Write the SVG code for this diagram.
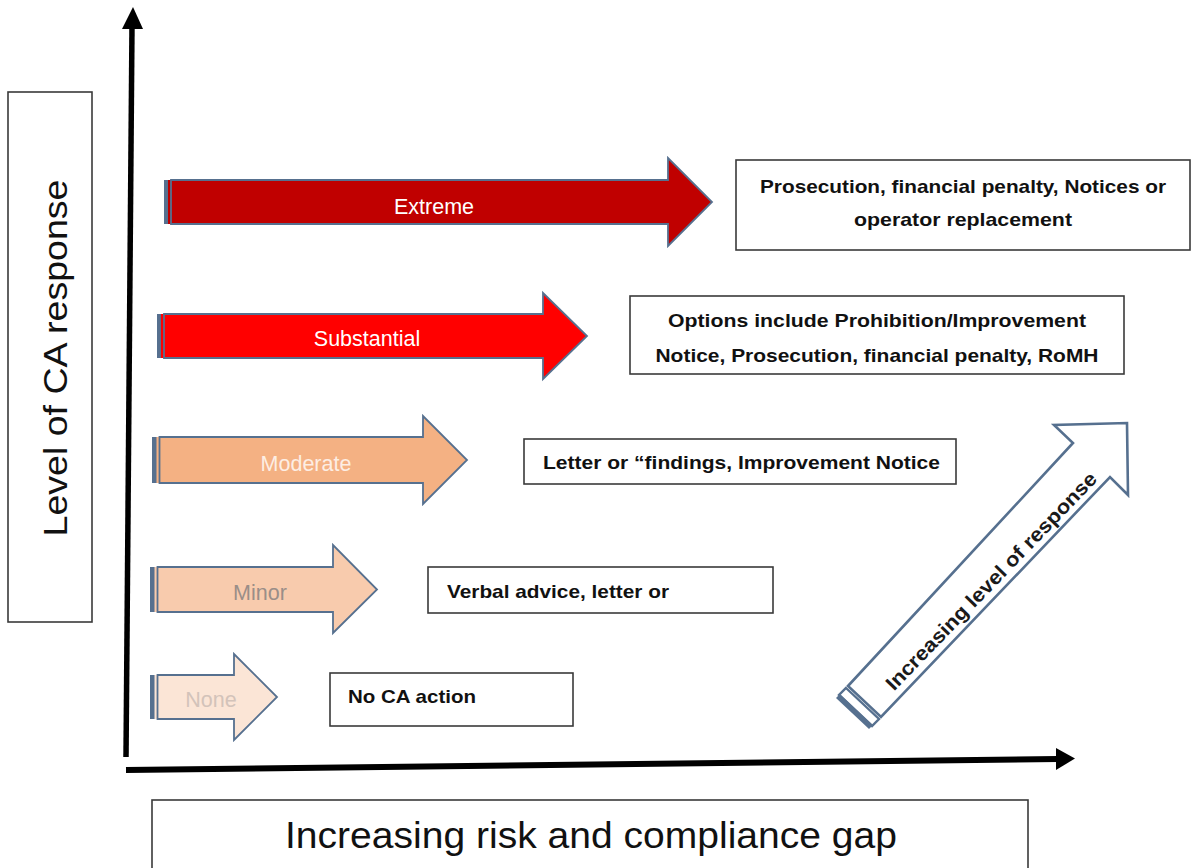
<svg xmlns="http://www.w3.org/2000/svg" width="1191" height="868" viewBox="0 0 1191 868">
<style>
.body{stroke:#56708f;stroke-width:1.8;stroke-linejoin:miter}
.bar{fill:#56708f}
.lbl{font-family:"Liberation Sans",Arial,sans-serif;font-size:21.5px;text-anchor:middle}
.box{fill:#fff;stroke:#3a3a3a;stroke-width:1.6}
.bt{font-family:"Liberation Sans",Arial,sans-serif;font-size:18.5px;font-weight:bold;fill:#111}
.axis{font-family:"Liberation Sans",Arial,sans-serif;fill:#111}
</style>
<rect width="1191" height="868" fill="#fff"/>

<g id="connectors">
  <line x1="126" y1="757" x2="132" y2="26" stroke="#000" stroke-width="5.5"/>
  <polygon points="122,29 143,29 133,7" fill="#000"/>
  <line x1="126" y1="770" x2="1058" y2="759" stroke="#000" stroke-width="6"/>
  <polygon points="1056,748 1075,758.5 1056,770" fill="#000"/>
</g>

<g id="ylabel">
  <rect x="8" y="92" width="84" height="530" class="box" stroke-width="1.3"/>
  <text class="axis" transform="translate(67,358) rotate(-90)" text-anchor="middle" font-size="34" textLength="357" lengthAdjust="spacingAndGlyphs">Level of CA response</text>
</g>

<g id="xlabel">
  <rect x="152" y="800" width="876" height="72" class="box" stroke-width="1.3"/>
  <text class="axis" x="591" y="848" text-anchor="middle" font-size="37" textLength="612" lengthAdjust="spacingAndGlyphs">Increasing risk and compliance gap</text>
</g>

<g id="extreme">
  <rect x="164" y="180" width="9" height="44" fill="#c00000"/>
  <rect x="164" y="180" width="4" height="44" class="bar"/>
  <polygon class="body" fill="#c00000" points="171,180 668,180 668,158 712,202 668,246 668,224 171,224"/>
  <text class="lbl" x="434" y="214" fill="#fff">Extreme</text>
</g>

<g id="substantial">
  <rect x="157" y="314" width="9" height="44" fill="#ff0000"/>
  <rect x="157" y="314" width="4" height="44" class="bar"/>
  <polygon class="body" fill="#ff0000" points="164,314 543,314 543,293 587,336 543,379 543,358 164,358"/>
  <text class="lbl" x="367" y="346" fill="#fff">Substantial</text>
</g>

<g id="moderate">
  <rect x="152" y="437" width="9" height="46" fill="#f4b183"/>
  <rect x="152" y="437" width="4.5" height="46" class="bar"/>
  <polygon class="body" fill="#f4b183" points="159.5,437 423,437 423,416 467,460 423,504 423,483 159.5,483"/>
  <text class="lbl" x="306" y="471" fill="#fdeee4">Moderate</text>
</g>

<g id="minor">
  <rect x="150" y="567" width="9" height="45" fill="#f8cbad"/>
  <rect x="150" y="567" width="4.5" height="45" class="bar"/>
  <polygon class="body" fill="#f8cbad" points="157.5,567 333,567 333,545 377,589.5 333,633 333,612 157.5,612"/>
  <text class="lbl" x="260" y="600" fill="#9a8e88">Minor</text>
</g>

<g id="none">
  <rect x="150" y="675" width="9" height="44" fill="#fbe5d6"/>
  <rect x="150" y="675" width="4.5" height="44" class="bar"/>
  <polygon class="body" fill="#fbe5d6" points="157.5,675 234,675 234,654 277,697 234,740 234,719 157.5,719"/>
  <text class="lbl" x="211" y="707" fill="#d3c3ba">None</text>
</g>

<g id="box-extreme">
  <rect x="736" y="160" width="454" height="90" class="box"/>
  <text class="bt" x="963" y="193" text-anchor="middle" textLength="406" lengthAdjust="spacingAndGlyphs">Prosecution, financial penalty, Notices or</text>
  <text class="bt" x="963" y="226" text-anchor="middle" textLength="218" lengthAdjust="spacingAndGlyphs">operator replacement</text>
</g>

<g id="box-substantial">
  <rect x="630" y="296" width="494" height="78" class="box"/>
  <text class="bt" x="877" y="327" text-anchor="middle" textLength="418" lengthAdjust="spacingAndGlyphs">Options include Prohibition/Improvement</text>
  <text class="bt" x="877" y="362" text-anchor="middle" textLength="443" lengthAdjust="spacingAndGlyphs">Notice, Prosecution, financial penalty, RoMH</text>
</g>

<g id="box-moderate">
  <rect x="524" y="439" width="432" height="45" class="box"/>
  <text class="bt" x="741.5" y="469" text-anchor="middle" textLength="397" lengthAdjust="spacingAndGlyphs">Letter or “findings, Improvement Notice</text>
</g>

<g id="box-minor">
  <rect x="428" y="567" width="345" height="46" class="box"/>
  <text class="bt" x="447" y="598" textLength="222" lengthAdjust="spacingAndGlyphs">Verbal advice, letter or</text>
</g>

<g id="box-none">
  <rect x="330" y="673" width="243" height="53" class="box"/>
  <text class="bt" x="348" y="703" textLength="128" lengthAdjust="spacingAndGlyphs">No CA action</text>
</g>

<g id="increasing">
  <polygon points="848,686 1073,443 1054,425 1127,423 1128,495 1110,477 881,717" fill="#fff" stroke="#56708f" stroke-width="2.6" stroke-linejoin="miter"/>
  <polygon points="846,688 879,719 872,726 839,695" fill="#fff" stroke="#56708f" stroke-width="2.4"/>
  <polygon points="840,694 873,725 869,729 836,698" fill="#56708f"/>
  <text transform="translate(991,581) rotate(-46)" x="0" y="7" text-anchor="middle" font-family="Liberation Sans, Arial, sans-serif" font-size="20" font-weight="bold" fill="#1a1a1a" textLength="294" lengthAdjust="spacingAndGlyphs">Increasing level of response</text>
</g>
</svg>
